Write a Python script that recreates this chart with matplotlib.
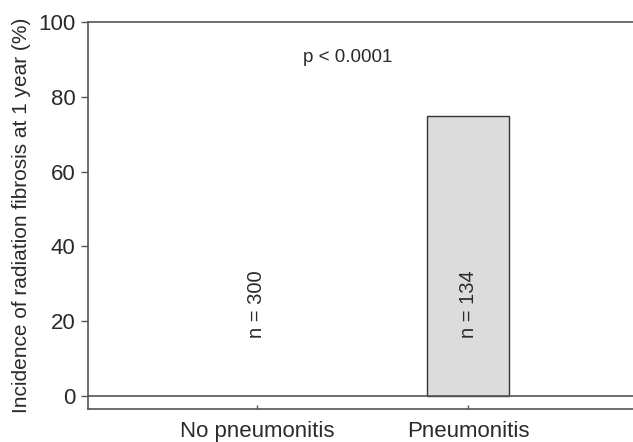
import matplotlib
matplotlib.use("Agg")
import matplotlib.pyplot as plt

categories = ['No pneumonitis', 'Pneumonitis']
incidence = [0, 75]
n_labels = ['n = 300', 'n = 134']
p_text = 'p < 0.0001'

plt.rcParams['font.family'] = ['Liberation Sans', 'DejaVu Sans']
txt = '#2a2a2a'
line = '#555555'

fig = plt.figure(figsize=(6.33, 4.42), dpi=100)
ax = fig.add_axes([0.139, 0.075, 0.861, 0.875])

x = list(range(len(categories)))
ax.bar(x, incidence, width=0.39, color='#dcdcdd', edgecolor='#333333',
       linewidth=[1.0 if v > 0 else 0 for v in incidence], zorder=2)
ax.axhline(0, color=line, linewidth=1.2, zorder=3)

for xi, lab in zip(x, n_labels):
    ax.text(xi, 24.5, lab, rotation=90, ha='center', va='center', fontsize=14.5, color=txt)
ax.text(0.43, 90.5, p_text, ha='center', va='center', fontsize=13.5, color=txt)

ax.set_xlim(-0.80, 1.78)
ax.set_ylim(-3.5, 100)
ax.set_yticks([0, 20, 40, 60, 80, 100])
ax.set_xticks(x)
ax.set_xticklabels(categories)
ax.set_ylabel('Incidence of radiation fibrosis at 1 year (%)', fontsize=15, color=txt, labelpad=5)

ax.spines['right'].set_visible(False)
for s in ['left', 'top', 'bottom']:
    ax.spines[s].set_color(line)
    ax.spines[s].set_linewidth(1.2)
ax.tick_params(axis='y', direction='out', length=5, width=1, color=line, labelsize=16, labelcolor=txt, pad=4)
ax.tick_params(axis='x', direction='in', length=3, width=1, color=line, labelsize=16, labelcolor=txt, pad=9)

fig.savefig('out.png', dpi=100)
